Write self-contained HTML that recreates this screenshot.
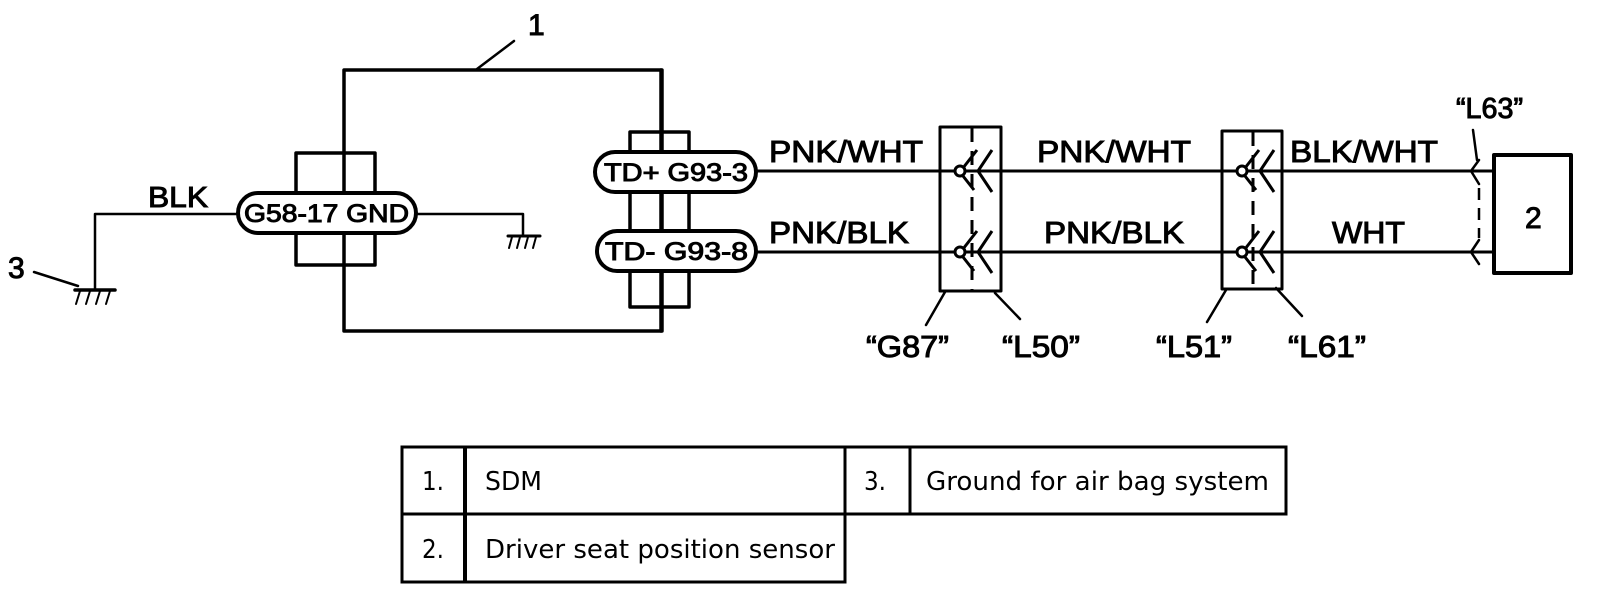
<!DOCTYPE html>
<html><head><style>
html,body{margin:0;padding:0;background:#fff;width:1600px;height:596px;overflow:hidden}
svg{display:block}
.t{font-family:"Liberation Sans",Arial,sans-serif;fill:#000;stroke:#000;stroke-width:1}
.m{font-family:"DejaVu Sans",Verdana,sans-serif;fill:#000}
</style></head><body>
<svg width="1600" height="596" viewBox="0 0 1600 596" xmlns="http://www.w3.org/2000/svg">
<g fill="none" stroke="#000" stroke-width="3.5" stroke-linecap="round" stroke-linejoin="round">
 <rect x="344" y="70" width="318" height="261"/>
 <line x1="477" y1="69" x2="514" y2="41" stroke-width="2.5"/>
 <rect x="296" y="153" width="79" height="112"/>
 <rect x="238" y="193" width="178" height="40" rx="20" fill="#fff" stroke-width="4"/>
 <rect x="630" y="132" width="59" height="175"/>
 <line x1="661" y1="70" x2="661" y2="331"/>
 <rect x="595" y="152" width="161" height="40" rx="20" fill="#fff" stroke-width="4"/>
 <rect x="597" y="231" width="159" height="40" rx="20" fill="#fff" stroke-width="4"/>
 <polyline points="238,214 95,214 95,290" stroke-width="2.5"/>
 <line x1="75" y1="290" x2="115" y2="290" stroke-width="3.5"/>
 <g stroke-width="2"><line x1="80" y1="291" x2="76" y2="304"/><line x1="90" y1="291" x2="86" y2="304"/><line x1="100" y1="291" x2="96" y2="304"/><line x1="110" y1="291" x2="106" y2="304"/></g>
 <line x1="34" y1="272" x2="78" y2="286" stroke-width="2.5"/>
 <polyline points="416,214 523,214 523,235" stroke-width="2.5"/>
 <line x1="508" y1="236" x2="540" y2="236" stroke-width="3"/>
 <g stroke-width="2"><line x1="512" y1="237" x2="509" y2="248"/><line x1="520" y1="237" x2="517" y2="248"/><line x1="528" y1="237" x2="525" y2="248"/><line x1="536" y1="237" x2="533" y2="248"/></g>
 <line x1="756" y1="171" x2="1494" y2="171" stroke-width="3"/>
 <line x1="756" y1="252" x2="1494" y2="252" stroke-width="3"/>
 <rect x="940" y="127" width="61" height="164" stroke-width="3"/>
 <rect x="1222" y="131" width="60" height="158" stroke-width="3"/>
 <line x1="972" y1="128" x2="972" y2="291" stroke-width="3" stroke-dasharray="14,9" stroke-linecap="butt"/>
 <line x1="1253" y1="132" x2="1253" y2="289" stroke-width="3" stroke-dasharray="14,9" stroke-linecap="butt"/>
 <rect x="1494" y="155" width="77" height="118" stroke-width="4"/>
 <polyline points="1473,130 1477,160" stroke-width="2.5"/>
 <polyline points="1479,160 1471,171 1479,184" stroke-width="2.5"/>
 <line x1="1479" y1="188" x2="1479" y2="238" stroke-width="2.5" stroke-dasharray="12,8" stroke-linecap="butt"/>
 <polyline points="1479,240 1471,252 1479,264" stroke-width="2.5"/>
 <g stroke-width="2.5">
  <line x1="945" y1="292" x2="926" y2="325"/>
  <line x1="995" y1="293" x2="1020" y2="319"/>
  <line x1="1226" y1="290" x2="1207" y2="322"/>
  <line x1="1276" y1="288" x2="1302" y2="316"/>
 </g>
</g>
<g fill="#fff" stroke="#000" stroke-width="3" stroke-linejoin="round">
 <g id="sp1">
  <polyline points="977,150 963,168" fill="none"/>
  <polyline points="963,176 974,190" fill="none"/>
  <polyline points="992,150 978,171 992,192" fill="none"/>
  <circle cx="960" cy="171" r="5"/>
 </g>
 <use href="#sp1" y="81"/>
 <use href="#sp1" x="282" y="0"/>
 <use href="#sp1" x="282" y="81"/>
</g>
<text class="t" x="528" y="35" font-size="30">1</text>
<text class="t" x="8" y="278" font-size="30">3</text>
<text class="t" x="148" y="207" font-size="29" textLength="60" lengthAdjust="spacingAndGlyphs">BLK</text>
<text class="t" x="244" y="222" font-size="25" textLength="165" lengthAdjust="spacingAndGlyphs">G58-17 GND</text>
<text class="t" x="604" y="181" font-size="25" textLength="144" lengthAdjust="spacingAndGlyphs">TD+ G93-3</text>
<text class="t" x="605" y="260" font-size="25" textLength="143" lengthAdjust="spacingAndGlyphs">TD-  G93-8</text>
<text class="t" x="769" y="162" font-size="31" textLength="154" lengthAdjust="spacingAndGlyphs">PNK/WHT</text>
<text class="t" x="769" y="243" font-size="31" textLength="140" lengthAdjust="spacingAndGlyphs">PNK/BLK</text>
<text class="t" x="1037" y="162" font-size="31" textLength="154" lengthAdjust="spacingAndGlyphs">PNK/WHT</text>
<text class="t" x="1044" y="243" font-size="31" textLength="140" lengthAdjust="spacingAndGlyphs">PNK/BLK</text>
<text class="t" x="1290" y="162" font-size="31" textLength="148" lengthAdjust="spacingAndGlyphs">BLK/WHT</text>
<text class="t" x="1332" y="243" font-size="31" textLength="73" lengthAdjust="spacingAndGlyphs">WHT</text>
<text class="t" x="1525" y="228" font-size="30">2</text>
<text class="t" x="1456" y="118" font-size="29" textLength="67" lengthAdjust="spacingAndGlyphs">“L63”</text>
<text class="t" x="866" y="357" font-size="31" textLength="83" lengthAdjust="spacingAndGlyphs">“G87”</text>
<text class="t" x="1002" y="357" font-size="31" textLength="78" lengthAdjust="spacingAndGlyphs">“L50”</text>
<text class="t" x="1156" y="357" font-size="31" textLength="76" lengthAdjust="spacingAndGlyphs">“L51”</text>
<text class="t" x="1288" y="357" font-size="31" textLength="78" lengthAdjust="spacingAndGlyphs">“L61”</text>
<g fill="none" stroke="#000" stroke-width="3">
 <rect x="402" y="447" width="884" height="67"/>
 <rect x="402" y="514" width="443" height="68"/>
 <line x1="465" y1="447" x2="465" y2="582" stroke-width="4"/>
 <line x1="845" y1="447" x2="845" y2="514"/>
 <line x1="910" y1="447" x2="910" y2="514"/>
</g>
<text class="m" font-size="26" x="422" y="490" textLength="22" lengthAdjust="spacingAndGlyphs">1.</text>
<text class="m" font-size="26" x="485" y="490" textLength="57" lengthAdjust="spacingAndGlyphs">SDM</text>
<text class="m" font-size="26" x="864" y="490" textLength="22" lengthAdjust="spacingAndGlyphs">3.</text>
<text class="m" font-size="26" x="926" y="490" textLength="343" lengthAdjust="spacingAndGlyphs">Ground for air bag system</text>
<text class="m" font-size="26" x="422" y="558" textLength="22" lengthAdjust="spacingAndGlyphs">2.</text>
<text class="m" font-size="26" x="485" y="558" textLength="350" lengthAdjust="spacingAndGlyphs">Driver seat position sensor</text>
</svg>
</body></html>
